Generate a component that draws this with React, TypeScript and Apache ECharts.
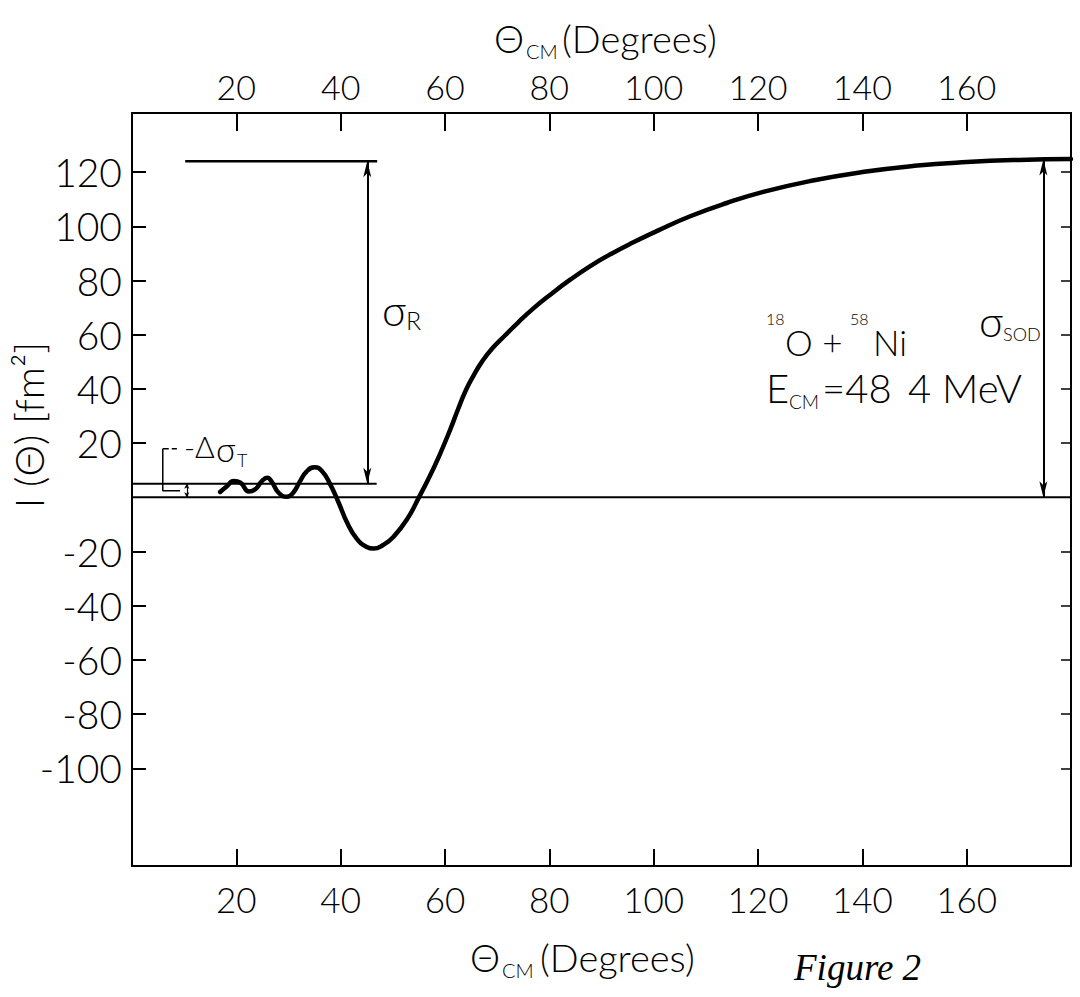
import React, { useEffect, useRef } from "react";
import * as echarts from "echarts";

// ---- data ----
const X_RANGE = [0, 180];
const Y_RANGE = [-136, 141.8];
const X_TICKS = [20, 40, 60, 80, 100, 120, 140, 160];
const Y_TICKS = [-100, -80, -60, -40, -20, 20, 40, 60, 80, 100, 120];

// I(theta) curve  [theta_cm (deg), I (fm^2)]
const CURVE = [
  [16.9, 2.0], [18.2, 4.1], [19.5, 6.0], [20.8, 5.4], [22.4, 2.2], [23.7, 3.1],
  [24.9, 6.0], [25.9, 7.2], [26.8, 5.7], [28.1, 1.7], [29.7, 0.2], [30.9, 1.7],
  [32.2, 5.9], [33.5, 9.6], [35.0, 11.1], [36.4, 9.7], [38.0, 4.8], [39.6, -1.9],
  [41.2, -9.2], [43.1, -15.3], [45.0, -18.3], [46.3, -18.9], [48.2, -17.5],
  [50.1, -14.6], [52.7, -8.2], [55.0, 0.0], [57.0, 7.5], [59.0, 15.8],
  [61.0, 25.0], [62.5, 32.5], [64.0, 39.5], [65.5, 45.0], [67.0, 49.8],
  [69.0, 54.8], [71.5, 59.7], [74.0, 64.5], [77.0, 69.8], [80.0, 74.5],
  [84.0, 80.3], [88.0, 85.5], [92.0, 90.0], [96.0, 94.0], [101.0, 98.6],
  [107.0, 103.7], [114.0, 108.6], [121.0, 112.7], [130.0, 116.7], [140.0, 120.0],
  [150.0, 122.3], [160.0, 123.7], [170.0, 124.5], [180.0, 124.8],
];

// reference lines / annotation geometry (data coordinates)
const ZERO_LINE = [[0, 0], [180, 0]];
const LOWER_LEVEL = [[0, 5], [46.9, 5]];
const SIGMA_R_TOP = [[10.2, 124], [47.0, 124]];
const SIGMA_R_ARROW = [[45.1, 124], [45.1, 5]];
const SIGMA_SOD_ARROW = [[174.7, 124.6], [174.7, 0]];
const DELTA_BRACKET = [[5.9, 17.9], [5.9, 2.4], [9.2, 2.4]];
const DELTA_LEADER = [[5.9, 17.9], [8.6, 17.9]];
const DELTA_ARROW = [[10.5, 5], [10.5, 0]];

const FONT = 'Lato, "Open Sans", "DejaVu Sans", sans-serif';
const BLACK = "#000";

function txt(x: number, y: number, text: string, size: number, extra: any = {}) {
  return {
    type: "text",
    x,
    y,
    silent: true,
    z: 100,
    ...extra,
    style: {
      text,
      fontSize: size,
      fontFamily: FONT,
      fontWeight: 300,
      fill: BLACK,
      align: "left",
      verticalAlign: "middle",
      ...(extra.style || {}),
    },
  };
}

function lineSeries(data: number[][], width = 2, type = "solid") {
  return {
    type: "line",
    data,
    symbol: "none",
    silent: true,
    animation: false,
    lineStyle: { color: BLACK, width, type },
    z: 3,
  };
}

function arrowSeries(seg: number[][], size: number[], width = 1.6) {
  return {
    type: "line",
    data: [],
    silent: true,
    markLine: {
      silent: true,
      animation: false,
      symbol: ["arrow", "arrow"],
      symbolSize: size,
      label: { show: false },
      lineStyle: { color: BLACK, width, type: "solid" },
      data: [[{ coord: seg[0] }, { coord: seg[1] }]],
    },
  };
}

export default function App() {
  const ref = useRef<HTMLDivElement>(null);

  useEffect(() => {
    if (!ref.current) return;
    const chart = echarts.init(ref.current, null, { renderer: "svg" });

    const axisLineStyle = { color: BLACK, width: 2 };
    const labelBase = { fontFamily: FONT, fontWeight: 300, color: BLACK, formatter: (v: number) => String(v) };

    const option: any = {
      animation: false,
      backgroundColor: "#fff",
      grid: { left: 132, top: 113, width: 939, height: 753, containLabel: false },
      xAxis: [
        {
          type: "value",
          position: "bottom",
          min: X_RANGE[0],
          max: X_RANGE[1],
          axisLine: { show: true, onZero: false, lineStyle: axisLineStyle },
          axisTick: { show: true, inside: true, length: 17, customValues: X_TICKS, lineStyle: { color: BLACK, width: 2 } },
          axisLabel: { ...labelBase, customValues: X_TICKS, fontSize: 35, margin: 15 },
          splitLine: { show: false },
        },
        {
          type: "value",
          position: "top",
          min: X_RANGE[0],
          max: X_RANGE[1],
          axisLine: { show: true, onZero: false, lineStyle: axisLineStyle },
          axisTick: { show: true, inside: true, length: 18, customValues: X_TICKS, lineStyle: { color: BLACK, width: 2 } },
          axisLabel: { ...labelBase, customValues: X_TICKS, fontSize: 34, margin: 10 },
          splitLine: { show: false },
        },
      ],
      yAxis: [
        {
          type: "value",
          position: "left",
          min: Y_RANGE[0],
          max: Y_RANGE[1],
          axisLine: { show: true, onZero: false, lineStyle: axisLineStyle },
          axisTick: { show: true, inside: true, length: 14, customValues: Y_TICKS, lineStyle: { color: BLACK, width: 2 } },
          axisLabel: { ...labelBase, customValues: Y_TICKS, fontSize: 39, margin: 10 },
          splitLine: { show: false },
        },
        {
          type: "value",
          position: "right",
          min: Y_RANGE[0],
          max: Y_RANGE[1],
          axisLine: { show: true, onZero: false, lineStyle: axisLineStyle },
          axisTick: { show: true, inside: true, length: 10, customValues: Y_TICKS, lineStyle: { color: BLACK, width: 1.5 } },
          axisLabel: { show: false },
          splitLine: { show: false },
        },
      ],
      series: [
        {
          type: "line",
          data: CURVE,
          symbol: "none",
          smooth: 0.5,
          silent: true,
          lineStyle: { color: BLACK, width: 4.5, cap: "round", join: "round" },
          z: 5,
        },
        lineSeries(ZERO_LINE, 2),
        lineSeries(LOWER_LEVEL, 2),
        lineSeries(SIGMA_R_TOP, 2.5),
        lineSeries(DELTA_BRACKET, 1.5),
        lineSeries(DELTA_LEADER, 1.5, "dashed"),
        arrowSeries(SIGMA_R_ARROW, [6, 16], 2),
        arrowSeries(SIGMA_SOD_ARROW, [6, 16], 2),
        arrowSeries(DELTA_ARROW, [4, 5], 1.2),
      ],
      graphic: [
        // top axis title
        txt(494, 38, "Θ", 38),
        txt(526, 51, "CM", 20),
        txt(562, 38, "(Degrees)", 38),
        // bottom axis title
        txt(470, 957, "Θ", 38),
        txt(502, 970, "CM", 20),
        txt(540, 957, "(Degrees)", 38),
        // figure caption
        txt(794, 967, "Figure 2", 37, {
          style: { fontFamily: '"Liberation Serif", "DejaVu Serif", serif', fontStyle: "italic", fontWeight: 400 },
        }),
        // y axis title
        txt(29, 425, "I (Θ) [fm²]", 40, { rotation: Math.PI / 2, style: { align: "center" } }),
        // sigma R
        txt(382, 310, "σ", 42),
        txt(406, 320, "R", 25),
        // sigma SOD
        txt(979, 321, "σ", 42),
        txt(1003, 334, "SOD", 18),
        // -Delta sigma T
        txt(184, 446, "-Δ", 30),
        txt(216, 448, "σ", 34),
        txt(237, 460, "T", 18),
        // reaction
        txt(766, 318, "18", 16),
        txt(785, 342, "O +", 35),
        txt(850, 318, "58", 16),
        txt(873, 342, "Ni", 35),
        txt(766, 388, "E", 40),
        txt(789, 401, "CM", 19),
        txt(822, 388, "=48", 40),
        txt(908, 388, "4 MeV", 40),
      ],
    };

    chart.setOption(option);
    return () => chart.dispose();
  }, []);

  return (
    <div
      ref={ref}
      style={{ position: "absolute", left: 0, top: 0, width: 1080, height: 997, background: "#fff" }}
    />
  );
}
